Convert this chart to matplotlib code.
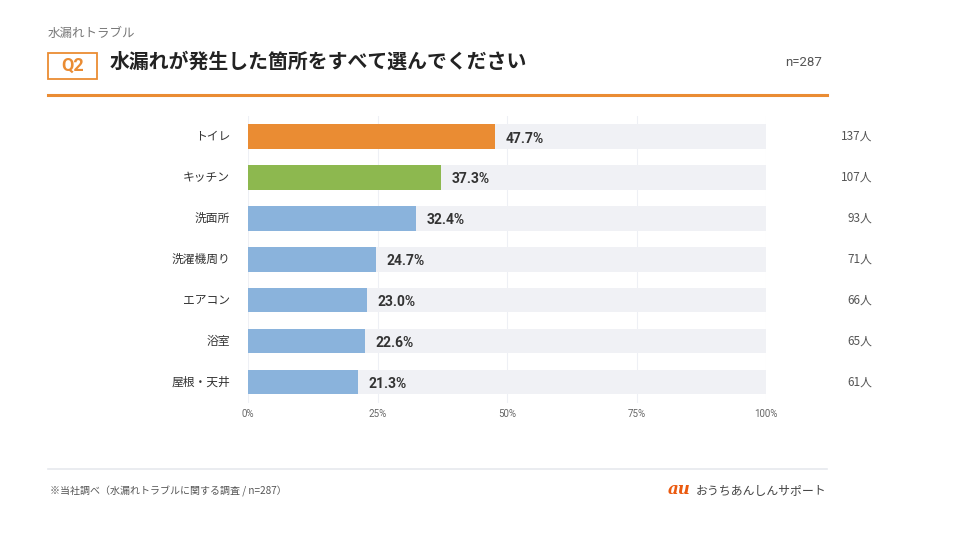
import numpy as np
import matplotlib.pyplot as plt
from matplotlib.patches import Rectangle

plt.rcParams['font.family'] = ['Noto Sans CJK JP', 'DejaVu Sans']
LAT = "Roboto"

categories = ["トイレ", "キッチン", "洗面所", "洗濯機周り", "エアコン", "浴室", "屋根・天井"]
values = [47.7, 37.3, 32.4, 24.7, 23.0, 22.6, 21.3]
counts = [137, 107, 93, 71, 66, 65, 61]
bar_colors = ["#EA8C33", "#8DB84F", "#8AB3DC", "#8AB3DC", "#8AB3DC", "#8AB3DC", "#8AB3DC"]
ticks = [0, 25, 50, 75, 100]

W, H = 960, 540
fig = plt.figure(figsize=(9.6, 5.4), dpi=100)
fig.patch.set_facecolor("white")

def fx(px):
    return px / W

def fy(py):
    return 1 - py / H

# header
fig.text(fx(48), fy(33), "水漏れトラブル", fontsize=9, color="#777777", va="center", ha="left")
fig.patches.append(Rectangle((fx(48), fy(79)), fx(49), (79 - 53) / H, transform=fig.transFigure,
                             facecolor="white", edgecolor="#EA8C33", linewidth=1.3))
fig.text(fx(72.5), fy(66), "Q2", fontsize=13, color="#EA8C33", fontweight="bold", va="center", ha="center",
         family=LAT)
fig.text(fx(110), fy(61), "水漏れが発生した箇所をすべて選んでください", fontsize=14.3, color="#222222",
         fontweight="bold", va="center", ha="left")
fig.text(fx(822), fy(63), "n=287", fontsize=9.5, color="#555555", va="center", ha="right", family=LAT)
fig.add_artist(plt.Line2D([fx(48), fx(827)], [fy(95), fy(95)], transform=fig.transFigure,
                          color="#EA8C33", linewidth=2.2))

# chart
top, bottom = 116, 402.5
ax = fig.add_axes([fx(248), fy(bottom), fx(766) - fx(248), (bottom - top) / H])
y = np.arange(len(categories))
ax.barh(y, [100] * len(categories), height=0.6, color="#F0F1F5", zorder=1)
ax.barh(y, values, height=0.6, color=bar_colors, zorder=2)
for t in ticks:
    ax.axvline(t, color="#EEF0F5", linewidth=0.8, zorder=0)
for i, v in enumerate(values):
    ax.text(v + 2, i + 0.05, f"{v:.1f}%", fontsize=10, fontweight="bold", color="#333333",
            va="center", ha="left", zorder=3, family=LAT)
    ax.text(120.5, i, f"{counts[i]}人", fontsize=8.5, color="#555555", va="center", ha="right")
    ax.text(-3.5, i, categories[i], fontsize=8.5, color="#333333", va="center", ha="right")

ax.set_xlim(0, 100)
ax.set_ylim(len(categories) - 0.5, -0.5)
ax.set_xticks(ticks)
ax.set_xticklabels([f"{t}%" for t in ticks], fontsize=7, color="#666666", family=LAT)
ax.set_yticks([])
ax.tick_params(axis="x", length=0, pad=5)
for s in ax.spines.values():
    s.set_visible(False)

# footer
fig.add_artist(plt.Line2D([fx(48), fx(827)], [fy(469), fy(469)], transform=fig.transFigure,
                          color="#E6E9EE", linewidth=1.2))
fig.text(fx(50), fy(491), "※当社調べ（水漏れトラブルに関する調査 / n=287）", fontsize=7.2,
         color="#555555", va="center", ha="left")
fig.text(fx(826), fy(491), "おうちあんしんサポート", fontsize=8.6, color="#444444", va="center", ha="right")
fig.text(fx(668), fy(490), "au", fontsize=12, color="#EB5A0F", fontweight="bold", style="italic",
         va="center", ha="left", family="DejaVu Serif")

fig.savefig("out.png", dpi=100)
